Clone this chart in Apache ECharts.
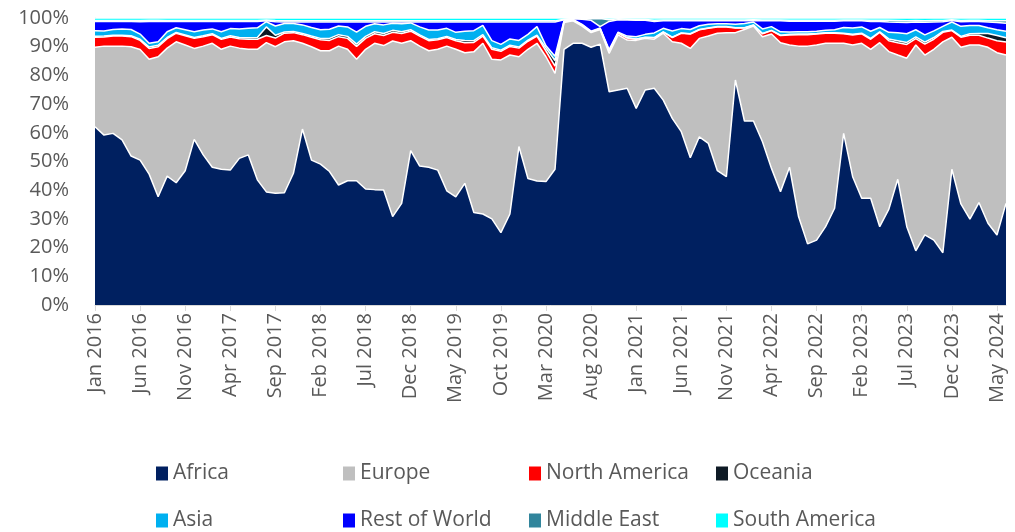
<!DOCTYPE html>
<html>
<head>
<meta charset="utf-8">
<script src="https://cdn.jsdelivr.net/npm/echarts@6/dist/echarts.min.js"></script>
<style>
  html, body { margin: 0; padding: 0; background: #fff; }
  #chart { width: 1015px; height: 532px; }
</style>
</head>
<body>
<div id="chart"></div>
<script>
// months Jan 2016 .. Jun 2024
var monthNames = ['Jan','Feb','Mar','Apr','May','Jun','Jul','Aug','Sep','Oct','Nov','Dec'];
var months = [];
for (var y = 2016; y <= 2024; y++) {
  for (var m = 0; m < 12; m++) {
    if (y === 2024 && m > 5) break;
    months.push(monthNames[m] + ' ' + y);
  }
}

var africa = [62.1,59.2,59.8,57.5,51.9,50.5,45.6,37.7,44.9,42.6,46.8,57.7,52.3,48.0,47.3,47.0,51.1,52.3,43.6,39.4,38.9,
  39.1,45.9,61.3,50.5,49.1,46.5,41.8,43.3,43.3,40.4,40.2,40.1,30.8,35.4,53.8,48.4,48.0,47.0,39.8,37.7,42.4,
  32.2,31.7,30.0,25.2,31.7,55.2,44.1,43.2,43.0,47.3,89.1,91.2,91.2,89.8,90.9,74.3,74.9,75.5,68.5,74.9,
  75.5,71.4,65.0,60.4,51.3,58.6,56.3,46.8,44.7,78.4,64.1,64.1,56.9,47.6,39.5,48.0,30.8,21.3,22.6,27.3,33.7,
  59.8,44.7,37.2,37.2,27.3,33.3,43.8,27.3,18.9,24.4,22.6,18.2,47.3,35.2,29.9,35.7,28.5,24.4,35.4];

var europe = [27.7,31.0,30.4,32.7,38.1,38.5,40.0,48.8,44.6,49.1,43.8,31.7,37.9,43.2,41.8,43.2,38.4,36.8,45.5,52.0,51.1,
  52.6,46.2,29.9,39.5,39.5,42.1,48.4,45.8,42.3,48.7,51.0,50.3,61.2,55.8,38.3,41.8,40.6,42.1,50.4,51.4,45.5,
  56.0,59.5,55.6,60.2,55.4,31.3,45.0,48.0,43.5,33.4,9.3,7.8,6.0,5.1,5.1,13.4,19.2,16.8,23.7,18.0,
  17.1,23.3,26.7,30.8,38.1,34.3,37.4,47.9,50.2,16.5,31.9,33.1,36.6,46.8,51.9,42.6,59.4,68.9,68.0,63.9,57.5,
  31.4,45.9,54.0,51.9,64.1,55.0,43.3,58.7,71.7,62.7,66.5,73.5,46.0,54.6,60.7,54.9,61.3,63.5,51.7];

var northAmerica = [3.5,3.2,3.5,3.5,3.5,3.2,3.8,3.5,3.3,3.0,3.2,3.5,3.3,3.0,3.5,3.2,3.3,3.5,3.5,2.5,3.0,
  3.0,2.8,3.0,3.3,3.8,3.6,3.3,3.8,4.5,3.8,3.3,3.5,3.0,3.4,3.3,3.5,3.5,3.3,3.0,3.0,3.5,
  3.3,2.5,3.5,3.0,3.0,3.0,2.8,2.5,2.0,2.5,0.3,0.2,0.3,0.2,0.2,0.8,0.6,0.7,0.4,0.3,
  0.5,0.4,1.5,3.5,5.0,3.0,2.7,2.2,2.0,1.6,0.5,0.3,1.0,1.2,2.5,3.5,4.0,4.0,3.8,3.5,3.5,
  3.3,3.5,3.3,3.5,3.6,3.8,4.3,4.8,2.2,3.8,3.5,3.3,2.3,3.5,3.4,3.4,3.2,4.2,4.5];

var oceania = [0.3,0.3,0.3,0.3,0.3,0.4,0.5,0.5,0.4,0.3,0.3,0.3,0.3,0.3,0.3,0.4,0.4,0.5,0.6,3.0,1.0,
  0.4,0.4,0.4,0.4,0.5,0.7,0.7,0.7,0.8,0.7,0.7,0.7,0.7,0.6,0.5,0.4,0.4,0.4,0.4,0.4,0.8,
  0.6,0.5,0.5,0.4,0.4,0.4,0.4,0.3,1.0,2.0,0.1,0.1,0.1,0.1,0.1,0.1,0.1,0.1,0.1,0.1,
  0.1,0.1,0.1,0.1,0.1,0.1,0.1,0.1,0.1,0.1,0.1,0.1,0.1,0.1,0.1,0.2,0.2,0.2,0.2,0.2,0.2,
  0.2,0.2,0.2,0.3,0.2,0.6,0.7,0.7,0.6,0.7,0.6,0.3,0.2,0.3,0.5,0.6,1.6,1.8,1.5];

var asia = [2.0,1.8,2.0,2.2,2.2,1.8,1.3,1.2,2.0,1.6,1.8,2.0,2.0,1.7,2.3,2.5,3.0,3.3,3.4,1.8,3.2,
  3.0,2.8,3.0,3.0,3.0,3.2,3.0,3.3,4.2,3.5,2.8,3.0,2.5,2.8,2.4,2.8,3.3,3.0,2.8,2.5,3.2,
  3.5,3.2,2.5,2.0,2.2,2.3,2.0,3.0,0.8,1.5,0.3,0.2,0.2,0.2,0.2,0.4,0.3,0.6,0.8,1.0,
  1.6,1.2,2.2,1.5,1.5,1.3,1.3,1.0,1.0,1.2,1.5,1.0,1.6,1.3,1.2,0.8,0.8,0.8,0.8,0.8,1.0,
  2.0,2.2,2.2,2.5,1.5,2.3,2.8,3.0,2.5,2.5,2.3,1.8,2.8,3.5,2.9,2.8,2.0,2.0,2.3];

var restOfWorld = [3.2,3.3,2.8,2.6,2.8,4.3,7.6,7.1,3.6,2.2,2.9,3.6,3.0,2.6,3.6,2.5,2.6,2.4,2.2,0.3,1.5,
  0.5,0.5,1.0,1.9,2.7,2.5,1.4,1.7,3.5,1.5,0.6,1.0,0.4,0.6,0.3,1.7,2.8,2.8,2.2,3.6,3.2,
  3.0,1.2,6.5,7.8,5.9,6.4,4.3,1.6,8.3,11.9,0.3,0.2,1.8,3.8,0.5,9.8,4.3,5.6,5.7,4.9,
  4.0,2.6,3.5,2.7,3.0,1.7,1.2,1.0,1.0,1.2,0.9,0.5,2.8,2.0,3.8,3.8,3.7,3.7,3.5,3.2,3.0,
  2.3,2.5,2.1,3.4,2.1,3.6,3.6,3.9,2.7,4.4,3.1,1.6,0.5,1.6,1.4,1.4,2.0,2.5,2.8];

var middleEast = [0.3,0.3,0.3,0.3,0.3,0.4,0.4,0.4,0.3,0.3,0.3,0.3,0.3,0.3,0.3,0.3,0.3,0.3,0.3,0.3,0.4,
  0.4,0.4,0.4,0.4,0.4,0.4,0.4,0.4,0.4,0.4,0.4,0.4,0.4,0.4,0.4,0.4,0.4,0.4,0.4,0.4,0.4,
  0.4,0.4,0.4,0.4,0.4,0.4,0.4,0.4,0.4,0.4,0.2,0.1,0.2,0.5,2.8,0.6,0.3,0.3,0.3,0.3,
  0.4,0.3,0.3,0.3,0.3,0.3,0.3,0.3,0.3,0.3,0.3,0.3,0.3,0.3,0.3,0.3,0.3,0.3,0.3,0.3,0.3,
  0.3,0.3,0.3,0.4,0.4,0.6,0.6,0.6,0.5,0.5,0.5,0.4,0.3,0.4,0.4,0.4,0.4,0.6,0.8];

var southAmerica = [0.9,0.9,0.9,0.9,0.9,0.9,0.8,0.8,0.9,0.9,0.9,0.9,0.9,0.9,0.9,0.9,0.9,0.9,0.9,0.7,0.9,
  1.0,1.0,1.0,1.0,1.0,1.0,1.0,1.0,1.0,1.0,1.0,1.0,1.0,1.0,1.0,1.0,1.0,1.0,1.0,1.0,1.0,
  1.0,1.0,1.0,1.0,1.0,1.0,1.0,1.0,1.0,1.0,0.4,0.2,0.2,0.3,0.2,0.6,0.3,0.4,0.5,0.5,
  0.8,0.7,0.7,0.7,0.7,0.7,0.7,0.7,0.7,0.7,0.7,0.6,0.7,0.7,0.7,0.8,0.8,0.8,0.8,0.8,0.8,
  0.7,0.7,0.7,0.8,0.8,0.8,0.9,1.0,0.9,1.0,0.9,0.9,0.6,0.9,0.8,0.8,1.0,1.0,1.0];

var regions = [
  { name: 'Africa', data: africa, color: '#002060' },
  { name: 'Europe', data: europe, color: '#BFBFBF' },
  { name: 'North America', data: northAmerica, color: '#FF0000' },
  { name: 'Oceania', data: oceania, color: '#0E1A25' },
  { name: 'Asia', data: asia, color: '#00B0F0' },
  { name: 'Rest of World', data: restOfWorld, color: '#0000FF' },
  { name: 'Middle East', data: middleEast, color: '#31859C' },
  { name: 'South America', data: southAmerica, color: '#00FFFF' }
];

var font = 'Open Sans';
var grey = '#595959';

var series = regions.map(function (r) {
  return {
    name: r.name,
    type: 'line',
    stack: 'total',
    data: r.data,
    symbol: 'none',
    color: r.color,
    lineStyle: { color: '#ffffff', width: 1.5 },
    areaStyle: { color: r.color, opacity: 1 },
    emphasis: { disabled: true }
  };
});

// one legend per item: 4 columns x 2 rows
var legendCols = [151, 338, 524, 711];
var legendRows = [458, 505];
var legends = regions.map(function (r, i) {
  return {
    left: legendCols[i % 4],
    top: legendRows[Math.floor(i / 4)],
    itemWidth: 12,
    itemHeight: 14,
    icon: 'rect',
    data: [r.name],
    textStyle: { fontFamily: font, fontSize: 21, color: grey }
  };
});

var myChart = echarts.init(document.getElementById('chart'));
var option = {
  animation: false,
  grid: { left: 95, right: 9, top: 18, bottom: 227 },
  legend: legends,
  xAxis: {
    type: 'category',
    data: months,
    boundaryGap: false,
    axisLine: { lineStyle: { color: '#D9D9D9', width: 1 } },
    axisTick: { interval: 4, length: 6, lineStyle: { color: '#D9D9D9' } },
    axisLabel: {
      interval: 4,
      rotate: 90,
      margin: 8,
      fontFamily: font,
      fontSize: 20,
      color: grey
    }
  },
  yAxis: {
    type: 'value',
    min: 0,
    max: 100,
    interval: 10,
    axisLine: { show: true, lineStyle: { color: '#D9D9D9' } },
    axisTick: { show: false },
    splitLine: { show: false },
    axisLabel: {
      formatter: '{value}%',
      margin: 26,
      fontFamily: font,
      fontSize: 20,
      color: grey
    }
  },
  series: series
};
myChart.setOption(option);
</script>
</body>
</html>
